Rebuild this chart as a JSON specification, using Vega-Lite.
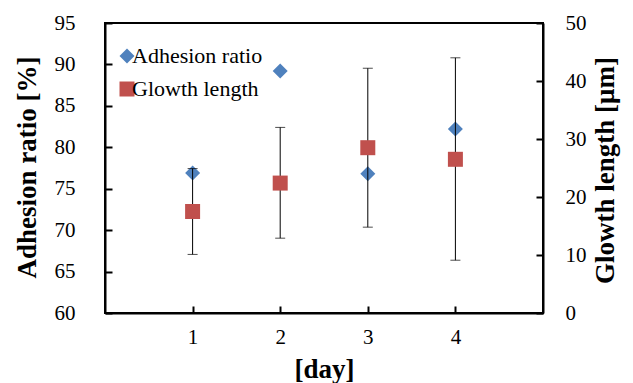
{
  "$schema": "https://vega.github.io/schema/vega-lite/v6.json",
  "width": 438,
  "height": 290,
  "autosize": {"type": "none"},
  "padding": {"left": 105, "top": 23, "right": 90, "bottom": 70},
  "background": "white",
  "config": {
    "font": "Liberation Serif",
    "view": {"stroke": "black", "strokeWidth": 2},
    "style": {
      "guide-label": {"font": "Liberation Serif", "fill": "black"},
      "guide-title": {"font": "Liberation Serif", "fill": "black"}
    },
    "axis": {
      "domainColor": "black",
      "domainWidth": 2,
      "tickColor": "black",
      "tickWidth": 2,
      "tickSize": -7,
      "grid": false,
      "labelFont": "Liberation Serif",
      "labelFontSize": 21,
      "labelColor": "black",
      "titleFont": "Liberation Serif",
      "titleFontSize": 27,
      "titleFontWeight": "bold",
      "titleColor": "black"
    },
    "legend": {
      "labelFont": "Liberation Serif",
      "labelFontSize": 22,
      "labelColor": "black",
      "labelOffset": -6,
      "rowPadding": 11,
      "symbolSize": 225,
      "symbolOpacity": 1,
      "symbolStrokeWidth": 0,
      "padding": 0
    }
  },
  "data": {
    "values": [
      {"day": 1, "adhesion": 76.9, "growth": 17.5, "low": 10.1, "high": 24.9},
      {"day": 2, "adhesion": 89.2, "growth": 22.4, "low": 12.9, "high": 32.0},
      {"day": 3, "adhesion": 76.8, "growth": 28.5, "low": 14.8, "high": 42.2},
      {"day": 4, "adhesion": 82.2, "growth": 26.5, "low": 9.1, "high": 44.0}
    ]
  },
  "encoding": {
    "x": {
      "field": "day",
      "type": "quantitative",
      "scale": {"domain": [0, 5], "nice": false},
      "axis": {
        "values": [1, 2, 3, 4],
        "title": "[day]",
        "labelPadding": 20,
        "titleY": 64,
        "titleBaseline": "alphabetic"
      }
    }
  },
  "layer": [
    {
      "mark": {"type": "point", "filled": true, "opacity": 1, "size": 225},
      "encoding": {
        "y": {
          "field": "adhesion",
          "type": "quantitative",
          "scale": {"domain": [60, 95], "nice": false, "zero": false},
          "axis": {
            "orient": "left",
            "values": [60, 65, 70, 75, 80, 85, 90, 95],
            "title": "Adhesion ratio [%]",
            "labelPadding": 37,
            "titleX": -70,
            "titleY": 144,
            "titleAngle": 270,
            "titleAlign": "center",
            "titleBaseline": "alphabetic"
          }
        },
        "color": {
          "datum": "Adhesion ratio",
          "scale": {"domain": ["Adhesion ratio", "Glowth length"], "range": ["#4F81BD", "#C0504D"]},
          "legend": {
            "title": null,
            "orient": "none",
            "legendX": 11,
            "legendY": 22
          }
        },
        "shape": {
          "datum": "Adhesion ratio",
          "scale": {"domain": ["Adhesion ratio", "Glowth length"], "range": ["diamond", "square"]},
          "legend": {
            "title": null,
            "orient": "none",
            "legendX": 11,
            "legendY": 22
          }
        }
      }
    },
    {
      "encoding": {
        "y": {
          "field": "growth",
          "type": "quantitative",
          "scale": {"domain": [0, 50], "nice": false},
          "axis": {
            "orient": "right",
            "values": [0, 10, 20, 30, 40, 50],
            "title": "Glowth length [μm]",
            "labelPadding": 29,
            "titleX": 70,
            "titleY": 147,
            "titleAngle": 270,
            "titleAlign": "center",
            "titleBaseline": "alphabetic"
          }
        }
      },
      "layer": [
        {
          "mark": {"type": "rule", "color": "black", "strokeWidth": 1},
          "encoding": {
            "y": {"field": "low", "type": "quantitative"},
            "y2": {"field": "high"}
          }
        },
        {
          "mark": {"type": "tick", "orient": "horizontal", "color": "black", "size": 10, "thickness": 1},
          "encoding": {
            "y": {"field": "low", "type": "quantitative"}
          }
        },
        {
          "mark": {"type": "tick", "orient": "horizontal", "color": "black", "size": 10, "thickness": 1},
          "encoding": {
            "y": {"field": "high", "type": "quantitative"}
          }
        },
        {
          "mark": {"type": "point", "filled": true, "opacity": 1, "size": 225},
          "encoding": {
            "color": {"datum": "Glowth length"},
            "shape": {"datum": "Glowth length"}
          }
        }
      ]
    }
  ],
  "resolve": {"scale": {"y": "independent"}}
}
